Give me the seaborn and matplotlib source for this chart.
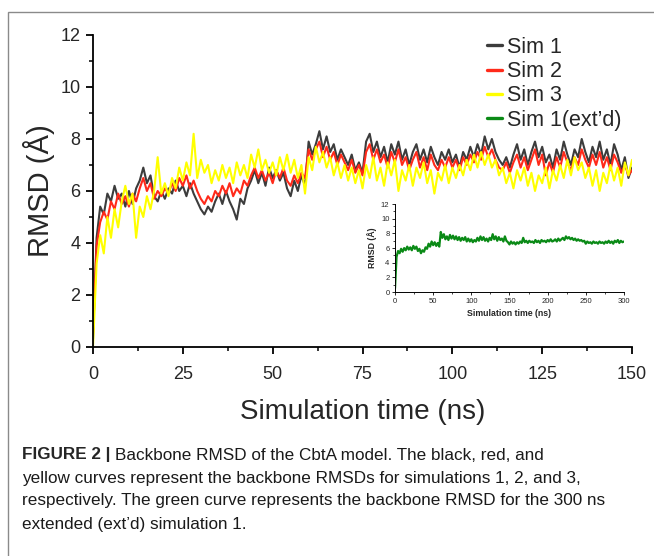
import matplotlib
matplotlib.use("Agg")
import matplotlib.pyplot as plt
from matplotlib.lines import Line2D
from matplotlib.patches import Rectangle
from matplotlib.ticker import MultipleLocator
import numpy as np
import pandas as pd
import seaborn as sns

# backbone RMSD (A), 1 ns steps 0..150
time_ns = list(range(0, 151))

sim1 = [0.3, 4.2, 5.4, 5.1, 5.9, 5.6, 6.2, 5.7, 5.9, 5.4,
        6.0, 5.5, 6.1, 6.4, 6.9, 6.3, 6.6, 5.8, 5.6, 6.0,
        5.7, 6.1, 5.9, 6.4, 6.0, 6.2, 5.8, 6.3, 5.9, 5.6,
        5.3, 5.1, 5.4, 5.2, 5.6, 5.9, 5.5, 6.0, 5.6, 5.3,
        4.9, 5.7, 5.5, 6.1, 6.4, 6.8, 6.3, 6.7, 6.2, 6.9,
        6.5, 6.8, 6.4, 6.7, 6.1, 5.8, 6.4, 6.0, 6.6, 6.2,
        7.9, 7.4, 7.8, 8.3, 7.6, 8.1, 7.5, 7.8, 7.2, 7.6,
        7.3, 7.0, 7.4, 6.8, 7.1, 6.7, 7.9, 8.2, 7.5, 7.9,
        7.3, 7.7, 7.1, 7.8, 7.4, 7.9, 7.2, 7.6, 7.0, 7.5,
        7.8, 7.2, 7.6, 7.1, 7.7, 7.3, 7.0, 7.5, 7.2, 7.6,
        7.1, 7.4, 6.9, 7.5, 7.2, 7.7, 7.3, 7.8, 7.4, 8.1,
        7.6, 8.0, 7.5, 7.2, 7.0, 7.3, 6.9, 7.4, 7.8, 7.2,
        7.6, 7.0, 7.5, 7.9, 7.3, 7.7, 7.1, 7.4, 6.9, 7.6,
        7.2, 7.9, 7.4, 7.0, 7.6, 7.3, 8.0, 7.5, 7.1, 7.7,
        7.3, 7.9, 7.2, 7.6, 7.0, 7.8, 7.4, 6.8, 7.3, 6.5,
        6.9]

sim2 = [0.5, 3.9, 4.8, 5.2, 4.9, 5.6, 5.3, 5.9, 5.5, 5.8,
        5.4, 5.9, 5.6, 6.1, 6.5, 6.0, 6.3, 5.7, 6.0, 5.8,
        6.1, 5.9, 6.3, 6.0, 6.5, 6.2, 6.6, 6.1, 6.4, 6.0,
        5.7, 5.5, 5.8, 5.6, 6.0, 5.8, 6.2, 5.9, 6.3, 5.8,
        6.1, 5.9, 6.4, 6.2, 6.6, 6.9, 6.5, 6.8, 6.4, 6.7,
        6.3, 6.8, 6.5, 6.9, 6.4, 6.2, 6.6, 6.3, 6.7, 6.5,
        7.6, 7.2, 7.6, 7.9, 7.3, 7.7, 7.2, 7.5, 7.0, 7.4,
        7.1, 6.8, 7.2, 6.7, 7.0, 6.6, 7.5, 7.8, 7.2, 7.6,
        7.1, 7.4, 6.9, 7.5, 7.1, 7.6, 7.0, 7.3, 6.8, 7.2,
        7.5, 6.9, 7.3, 6.8, 7.4, 7.0, 6.8, 7.2, 6.9, 7.3,
        6.9, 7.2, 6.8, 7.3, 7.0, 7.4, 7.1, 7.5, 7.2, 7.7,
        7.3, 7.6, 7.2, 6.9, 6.8, 7.1, 6.7, 7.1, 7.4, 6.9,
        7.3, 6.8, 7.2, 7.6, 7.0, 7.4, 6.6, 7.1, 6.7, 7.3,
        6.9, 7.5, 7.1, 6.8, 7.3, 7.0, 7.6, 7.2, 6.9, 7.4,
        7.0, 7.5, 6.9, 7.3, 6.8, 7.4, 7.1, 6.7, 7.0, 6.6,
        6.8]

sim3 = [0.0, 3.2, 4.3, 3.6, 5.0, 4.2, 5.3, 4.6, 5.6, 6.2,
        5.5, 5.9, 4.2, 5.4, 5.0, 5.8, 5.3, 6.0, 7.3, 5.9,
        6.3, 5.8, 6.5, 6.1, 6.9, 6.4, 7.1, 6.6, 8.2, 6.5,
        7.2, 6.7, 7.0, 6.3, 6.8, 6.4, 7.0, 6.5, 6.9, 6.3,
        7.1, 6.6, 7.0, 6.5, 7.4, 6.9, 7.6, 6.8, 7.2, 6.7,
        7.1, 6.6, 7.3, 6.8, 7.4, 6.7, 7.2, 6.5, 7.0, 5.9,
        7.3, 6.8, 7.7, 7.1, 7.5, 6.9, 7.3, 6.6, 7.1, 6.5,
        7.0, 6.4, 6.9, 6.3, 6.8, 6.1, 7.0, 6.5, 7.3, 6.4,
        6.9, 6.2, 7.1, 6.6, 7.2, 6.0, 6.8, 6.4, 7.0, 6.2,
        6.9, 6.5, 7.1, 6.3, 6.8, 5.9, 6.7, 6.4, 7.0, 6.3,
        6.9, 6.5, 7.0, 6.6, 7.2, 6.8, 7.4, 6.9, 7.5, 7.0,
        7.4, 6.9, 7.2, 6.6, 6.9, 6.3, 6.7, 6.1, 6.8, 6.4,
        6.9, 6.2, 6.7, 6.0, 6.6, 6.3, 6.9, 6.1, 6.8, 6.4,
        7.0, 6.5, 7.2, 6.6, 7.3, 6.8, 7.1, 6.5, 6.9, 6.2,
        6.8, 6.0, 6.7, 6.3, 7.0, 6.4, 6.9, 6.2, 7.1, 6.6,
        7.2]

# extended run of sim 1, 2 ns steps 0..300
ext_time_ns = list(range(0, 301, 2))
sim1_ext = [0.5, 4.8, 5.6, 5.3, 5.9, 5.5, 6.0, 5.7, 6.2, 5.8,
            6.1, 5.7, 6.3, 5.9, 6.2, 5.6, 5.9, 5.3, 5.7, 5.5,
            6.1, 5.9, 6.6, 6.2, 6.9, 6.4, 6.8, 6.3, 6.7, 6.2,
            8.2, 7.4, 7.9, 7.2, 7.6, 7.1, 7.8, 7.3, 7.7, 7.2,
            7.6, 7.1, 7.5, 7.0, 7.4, 7.1, 7.5, 6.9, 7.3, 6.9,
            7.2, 6.8, 7.1, 6.9, 7.4, 7.0, 7.6, 7.1, 7.5, 7.0,
            7.3, 6.9, 7.4, 7.1, 7.9, 7.2, 7.6, 7.0, 7.5, 7.1,
            7.3, 6.9, 7.6, 7.0, 6.8, 6.5, 6.9, 6.6, 6.8, 6.5,
            6.8, 6.6, 6.9, 6.7, 7.4, 6.8, 7.0, 6.7, 7.0, 6.8,
            6.9, 6.7, 7.1, 6.8, 7.0, 6.7, 7.1, 6.9, 7.0, 6.8,
            7.1, 6.9, 7.2, 6.9, 7.0, 7.2, 6.9, 7.3, 7.0, 7.2,
            7.4, 7.1, 7.6, 7.3, 7.5, 7.2, 7.4, 7.1, 7.3, 7.0,
            7.2, 7.0, 7.1, 6.9, 7.0, 6.6, 6.9, 6.7, 6.8, 6.6,
            6.9, 6.7, 6.8, 6.6, 6.9, 6.7, 6.8, 6.6, 6.9, 6.7,
            7.0, 6.7, 6.9, 6.6, 7.0, 6.8, 7.1, 6.7, 7.0, 6.8,
            6.9]

series_names = ["Sim 1", "Sim 2", "Sim 3", "Sim 1(ext\u2019d)"]
series_colors = ["#3c3c3c", "#ff2a1a", "#ffff00", "#0a8a16"]

caption = [
    ("FIGURE 2 | ", "Backbone RMSD of the CbtA model. The black, red, and"),
    ("", "yellow curves represent the backbone RMSDs for simulations 1, 2, and 3,"),
    ("", "respectively. The green curve represents the backbone RMSD for the 300 ns"),
    ("", "extended (ext\u2019d) simulation 1."),
]

sns.set_style("ticks")
plt.rcParams["font.family"] = ["Liberation Sans", "DejaVu Sans"]

df = pd.DataFrame({"time": time_ns * 3,
                   "rmsd": sim1 + sim2 + sim3,
                   "sim": ["Sim 1"] * 151 + ["Sim 2"] * 151 + ["Sim 3"] * 151})
df_ext = pd.DataFrame({"time": ext_time_ns, "rmsd": sim1_ext})

fig = plt.figure(figsize=(6.54, 5.56), dpi=100)
fig.patch.set_facecolor("white")

# outer frame of the figure panel
fig.patches.append(Rectangle((8 / 654, -0.05), 1.2, 1 - 12 / 556 + 0.05,
                             transform=fig.transFigure, fill=False,
                             edgecolor="#8a8a8a", linewidth=1.0))

ax = fig.add_axes([0.1422, 0.3759, 0.8242, 0.5612])
sns.lineplot(data=df, x="time", y="rmsd", hue="sim",
             palette=series_colors[:3], linewidth=1.5, estimator=None,
             sort=False, ax=ax, legend=False)

ax.set_xlim(0, 150)
ax.set_ylim(0, 12)
ax.xaxis.set_major_locator(MultipleLocator(25))
ax.xaxis.set_minor_locator(MultipleLocator(12.5))
ax.yaxis.set_major_locator(MultipleLocator(2))
ax.yaxis.set_minor_locator(MultipleLocator(1))
ax.tick_params(which="major", direction="out", length=5, width=1.3,
               labelsize=13, pad=4, color="black")
ax.tick_params(axis="x", which="major", pad=9)
ax.tick_params(which="minor", direction="out", length=3, width=1.1,
               color="black")
for s in ["top", "right"]:
    ax.spines[s].set_visible(False)
for s in ["left", "bottom"]:
    ax.spines[s].set_linewidth(1.3)
    ax.spines[s].set_color("black")
ax.set_xlabel("Simulation time (ns)", fontsize=20, labelpad=11)
ax.set_ylabel("RMSD (\u00c5)", fontsize=21, labelpad=4)

handles = [Line2D([], [], color=c, linewidth=2.4) for c in series_colors]
ax.legend(handles, series_names, loc="upper right",
          bbox_to_anchor=(1.005, 1.035), frameon=False, fontsize=15.5,
          handlelength=0.7, handletextpad=0.25, labelspacing=0.15,
          borderaxespad=0.2)

# inset with the 300 ns extended run
ins = fig.add_axes([0.604, 0.4748, 0.350, 0.158])
sns.lineplot(data=df_ext, x="time", y="rmsd", color=series_colors[3],
             linewidth=1.6, estimator=None, sort=False, ax=ins)
ins.set_xlim(0, 300)
ins.set_ylim(0, 12)
ins.xaxis.set_major_locator(MultipleLocator(50))
ins.xaxis.set_minor_locator(MultipleLocator(25))
ins.yaxis.set_major_locator(MultipleLocator(2))
ins.yaxis.set_minor_locator(MultipleLocator(1))
ins.tick_params(which="major", direction="out", length=2.5, width=0.7,
                labelsize=5.5, pad=1.5)
ins.tick_params(which="minor", direction="out", length=1.5, width=0.6)
for s in ["top", "right"]:
    ins.spines[s].set_visible(False)
for s in ["left", "bottom"]:
    ins.spines[s].set_linewidth(0.7)
    ins.spines[s].set_color("black")
ins.set_xlabel("Simulation time (ns)", fontsize=6.3, fontweight="bold",
               labelpad=3)
ins.set_ylabel("RMSD (\u00c5)", fontsize=6.3, fontweight="bold", labelpad=3)

# caption below the chart
y0 = 1 - 455 / 556
for i, (bold, rest) in enumerate(caption):
    y = y0 - i * 23 / 556
    x = 22 / 654
    if bold:
        t = fig.text(x, y, bold, fontsize=12.3, fontweight="bold", va="center")
        fig.canvas.draw()
        bb = t.get_window_extent()
        x = bb.x1 / fig.bbox.width
    fig.text(x, y, rest, fontsize=12.3, va="center", color="#1a1a1a")

fig.savefig("out.png", dpi=100, facecolor="white")
